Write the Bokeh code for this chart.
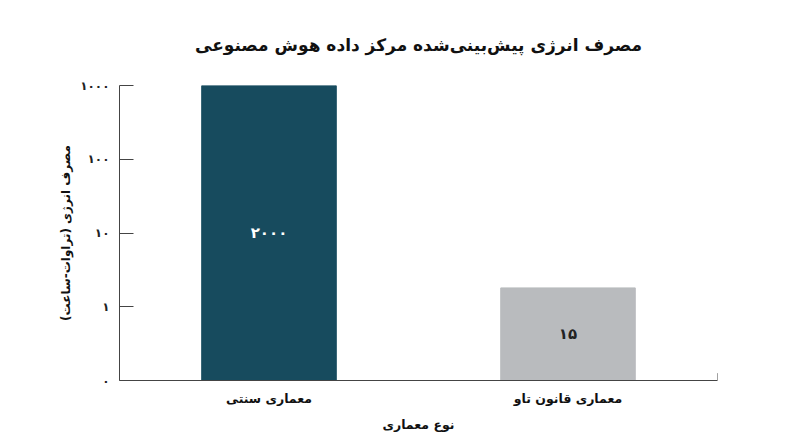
import math
from bokeh.plotting import figure
from bokeh.models import ColumnDataSource, FixedTicker, Range1d
from bokeh.core.properties import value
from bokeh.embed import file_html
from bokeh.resources import INLINE

# ---- data ----
categories = ["معماری سنتی", "معماری قانون تاو"]
energy_twh = [2000, 15]
bar_labels = ["۲۰۰۰", "۱۵"]
bar_colors = ["#174b5e", "#b9bbbe"]
tick_labels = ["۰", "۱", "۱۰", "۱۰۰", "۱۰۰۰"]

title_text = "مصرف انرژی پیش‌بینی‌شده مرکز داده هوش مصنوعی"
x_title = "نوع معماری"
y_title = "مصرف انرژی (تراوات-ساعت)"

FONT = "DejaVu Sans"

# log axis whose bottom/top are chosen to mirror the reference's visual scale
y_lo, y_hi = 1.6, 2000.0
n_steps = len(tick_labels) - 1
tick_pos = [y_lo * (y_hi / y_lo) ** (k / n_steps) for k in range(len(tick_labels))]

p = figure(width=792, height=439, x_range=categories, y_axis_type="log",
           y_range=Range1d(y_lo, y_hi), output_backend="svg",
           toolbar_location=None, min_border_left=119, min_border_right=75,
           min_border_top=85, min_border_bottom=59)

src = ColumnDataSource(dict(
    cat=categories, val=energy_twh, color=bar_colors, label=bar_labels,
    bottom=[y_lo] * len(categories),
    mid=[math.sqrt(y_lo * min(v, y_hi)) for v in energy_twh],
    tcolor=["#ffffff", "#222222"],
))
p.vbar(x="cat", top="val", bottom="bottom", width=0.45, color="color", source=src)
p.text(x="cat", y="mid", text="label", source=src, text_align="center",
       text_baseline="middle", text_font=value(FONT), text_font_size="15px",
       text_font_style="bold", text_color="tcolor")

# small end mark at the right of x-axis
p.segment(x0=[2.0], x1=[2.0], y0=[y_lo], y1=[y_lo * (y_hi / y_lo) ** 0.025],
          line_color="#444444", line_width=1)

p.title.text = title_text
p.title.align = "center"
p.title.text_font = FONT
p.title.text_font_size = "17px"
p.title.text_font_style = "bold"
p.title.text_color = "#111111"
p.title.offset = 0
p.title.standoff = 62

p.grid.visible = False
p.outline_line_color = None
p.background_fill_color = "white"
p.border_fill_color = "white"

ya = p.yaxis[0]
ya.ticker = FixedTicker(ticks=tick_pos, minor_ticks=[])
ya.major_label_overrides = {t: l for t, l in zip(tick_pos, tick_labels)}
ya.major_tick_in = 14
ya.major_tick_out = 0
ya.minor_tick_in = 0
ya.minor_tick_out = 0
ya.major_label_standoff = 10
ya.major_label_text_font = FONT
ya.major_label_text_font_size = "12px"
ya.major_label_text_font_style = "bold"
ya.major_label_text_color = "#222222"
ya.axis_label = y_title
ya.axis_label_text_font = FONT
ya.axis_label_text_font_size = "12px"
ya.axis_label_text_font_style = "bold"
ya.axis_label_text_color = "#111111"
ya.axis_label_standoff = 4
ya.axis_line_color = "#444444"
ya.major_tick_line_color = "#444444"

xa = p.xaxis[0]
xa.major_tick_in = 0
xa.major_tick_out = 0
xa.major_label_standoff = 10
xa.major_label_text_font = FONT
xa.major_label_text_font_size = "12.5px"
xa.major_label_text_font_style = "bold"
xa.major_label_text_color = "#111111"
xa.axis_label = x_title
xa.axis_label_text_font = FONT
xa.axis_label_text_font_size = "12.5px"
xa.axis_label_text_font_style = "bold"
xa.axis_label_text_color = "#111111"
xa.axis_label_standoff = 8
xa.axis_line_color = "#444444"

open("out.html", "w").write(file_html(p, INLINE))
